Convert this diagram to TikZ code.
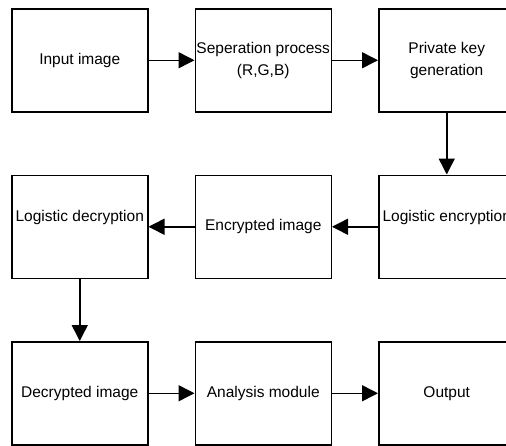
\documentclass[tikz,border=0pt]{standalone}
\usepackage{fontspec}
\setmainfont{Liberation Sans}
\usetikzlibrary{arrows.meta, positioning}
\tikzset{
  blk/.style={draw, line width=1.5pt, minimum width=136pt, minimum height=103pt,
    inner sep=1pt, align=center},
  upper/.style={text depth=22pt},
  arr/.style={line width=1.5pt, -{Triangle[length=16pt,width=16pt]}}
}

\begin{document}
\begin{tikzpicture}[font=\fontsize{15.5}{22}\selectfont]
				\useasboundingbox (0,0) rectangle (506pt,-445pt);
				\node[blk, anchor=north west] (input) at (11pt,-8pt) {Input image};
				\node[blk, right=46pt of input] (sep) {Seperation process\\(R,G,B)};
				\node[blk, right=46pt of sep] (key) {Private key\\generation};
				\node[blk, upper, below=62pt of key] (enc) {Logistic encryption};
				\node[blk, left=46pt of enc] (encimg) {Encrypted image};
				\node[blk, upper, left=46pt of encimg] (dec) {Logistic decryption};
				\node[blk, below=62pt of dec] (decimg) {Decrypted image};
				\node[blk, right=46pt of decimg] (analysis) {Analysis module};
				\node[blk, right=46pt of analysis] (out) {Output};
				\draw[arr] (input) -- (sep);
				\draw[arr] (sep) -- (key);
				\draw[arr] (key) -- (enc);
				\draw[arr] (enc.west |- encimg.east) -- (encimg.east);
				\draw[arr] (encimg.west) -- (dec.east |- encimg.west);
				\draw[arr] (dec.south) -- (decimg.north);
				\draw[arr] (decimg) -- (analysis);
				\draw[arr] (analysis) -- (out);
		\end{tikzpicture}
\end{document}
